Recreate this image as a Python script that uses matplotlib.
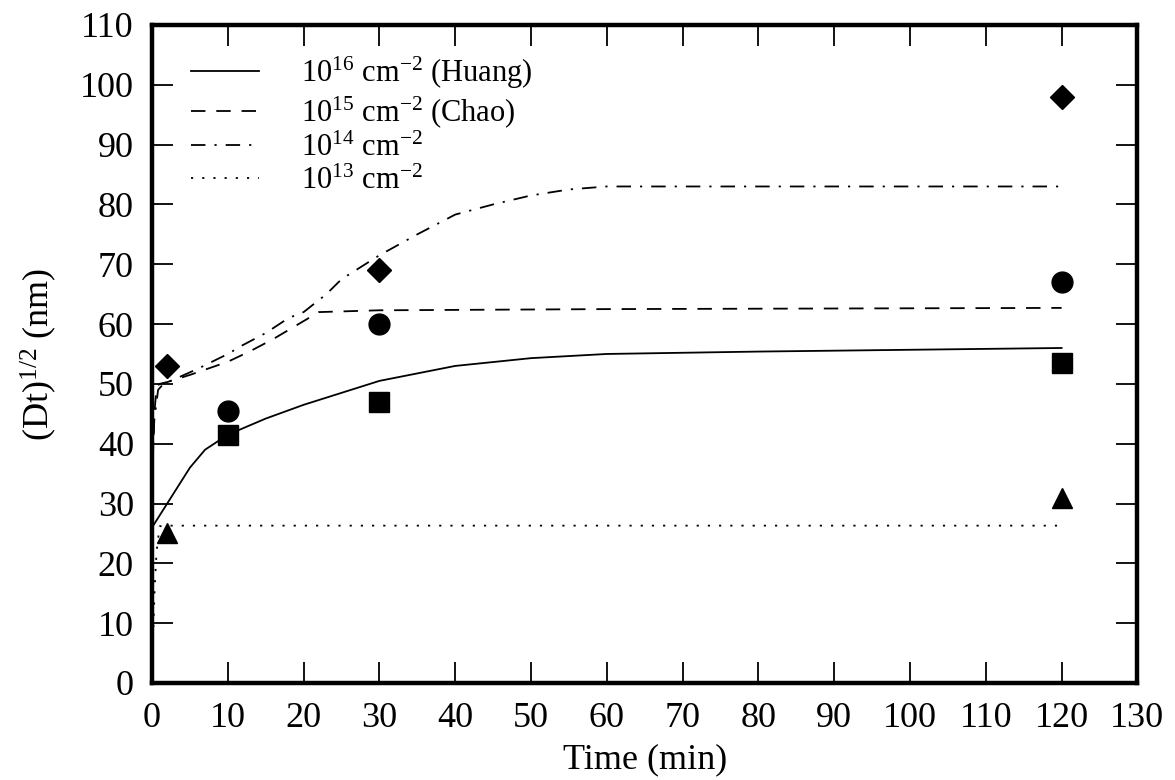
import matplotlib
matplotlib.use("Agg")
import matplotlib.pyplot as plt

plt.rcParams["font.family"] = ["Liberation Serif", "DejaVu Serif"]
plt.rcParams["mathtext.fontset"] = "custom"
plt.rcParams["mathtext.rm"] = "Liberation Serif"
plt.rcParams["mathtext.it"] = "Liberation Serif:italic"

# Model curves: diffusion length vs. anneal time
t_1e16 = [0, 2, 5, 7, 10, 15, 20, 30, 40, 50, 60, 80, 100, 120]
d_1e16 = [26, 30, 36, 39, 41.5, 44.2, 46.5, 50.5, 53.0, 54.3, 55.0, 55.4, 55.7, 56.0]

t_1e15 = [0, 0.3, 0.6, 1, 2, 5, 10, 13, 16, 20, 22, 30, 60, 120]
d_1e15 = [33, 45, 49.5, 50, 50.3, 51.5, 53.7, 55.5, 57.5, 60.5, 62, 62.3, 62.5, 62.7]

t_1e14 = [0, 0.3, 0.8, 1.5, 3, 6, 10, 12, 15, 18, 20, 23, 25, 30, 35, 40, 45, 50, 55, 60, 120]
d_1e14 = [36, 44, 49, 50, 50.8, 52.5, 55, 56.5, 58.5, 61, 62, 65, 67.5, 71.5, 75, 78.3, 80, 81.5, 82.5, 83, 83]

t_1e13 = [0, 0.15, 0.35, 0.6, 1, 2, 120]
d_1e13 = [0, 8, 16, 22, 26.2, 26.3, 26.3]

# Measured points
t_diamond = [2, 30, 120]
d_diamond = [53, 69, 98]
t_circle = [10, 30, 120]
d_circle = [45.5, 60, 67]
t_square = [10, 30, 120]
d_square = [41.5, 47, 53.5]
t_triangle = [2, 120]
d_triangle = [25, 31]

x_ticks = list(range(0, 131, 10))
y_ticks = list(range(0, 111, 10))

fig = plt.figure(figsize=(11.75, 7.8), dpi=100)
ax = fig.add_axes([0.1294, 0.1244, 0.8386, 0.8436])

lw = 1.3
ax.plot(t_1e16, d_1e16, color="black", lw=lw, linestyle="-",
        label=r"10$^{16}$ cm$^{\mathrm{-2}}$ (Huang)")
ax.plot(t_1e15, d_1e15, color="black", lw=lw, linestyle=(0, (8, 6)),
        label=r"10$^{15}$ cm$^{\mathrm{-2}}$ (Chao)")
ax.plot(t_1e14, d_1e14, color="black", lw=lw, linestyle=(0, (8, 5, 1.2, 5)),
        label=r"10$^{14}$ cm$^{\mathrm{-2}}$")
ax.plot(t_1e13, d_1e13, color="black", lw=lw, linestyle=(0, (1.2, 5)),
        label=r"10$^{13}$ cm$^{\mathrm{-2}}$")

ax.plot(t_diamond, d_diamond, linestyle="none", marker="D", ms=12, color="black")
ax.plot(t_circle, d_circle, linestyle="none", marker="o", ms=15, color="black")
ax.plot(t_square, d_square, linestyle="none", marker="s", ms=15, color="black")
ax.plot(t_triangle, d_triangle, linestyle="none", marker="^", ms=15, color="black")

ax.set_xlim(0, 130)
ax.set_ylim(0, 110)
ax.set_xticks(x_ticks)
ax.set_yticks(y_ticks)

for s in ax.spines.values():
    s.set_linewidth(3.2)

ax.tick_params(direction="in", length=15, width=1.3, labelsize=26,
               top=True, right=True)
ax.tick_params(axis="x", pad=14)
ax.tick_params(axis="y", pad=13)

ax.set_xlabel("Time (min)", fontsize=26, labelpad=6)
ax.set_ylabel(r"(Dt)$^{1/2}$ (nm)", fontsize=26, labelpad=15)

leg = ax.legend(loc="upper left", frameon=False, fontsize=22,
                handlelength=2.2, handletextpad=1.4, labelspacing=0.12,
                borderaxespad=0, borderpad=0,
                bbox_to_anchor=(0.04, 0.955))

fig.savefig("out.png", dpi=100)
